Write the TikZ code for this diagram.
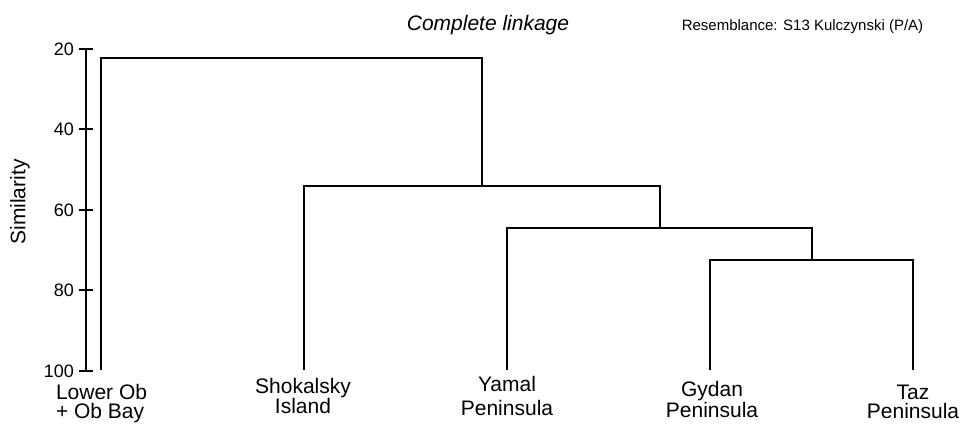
\documentclass[tikz,border=0pt]{standalone}
\usepackage{fontspec}
\setmainfont{Liberation Sans}
\begin{document}
\begin{tikzpicture}[x=1pt,y=1pt,line width=2pt,
  leaflbl/.style={font=\fontsize{21}{19}\selectfont,align=center,anchor=north,inner sep=0pt},
  ticklbl/.style={font=\fontsize{18}{18}\selectfont,anchor=east,inner sep=0pt}]
\useasboundingbox (0,0) rectangle (963,423);

\node[anchor=base,font=\fontsize{21}{21}\selectfont\itshape] (title) at (488,392) {Complete linkage};
\node[anchor=base,font=\fontsize{15}{15}\selectfont] (resem) at (802.5,392) {Resemblance: S13 Kulczynski (P/A)};
\node[rotate=90,font=\fontsize{21}{21}\selectfont] (simlbl) at (20,221) {Similarity};

\coordinate (atop) at (86,374);
\coordinate (abot) at (86,52);
\draw (atop) -- (abot);
\foreach \s/\yy in {20/374,40/294,60/213,80/133,100/52} {
  \draw (79,\yy) -- (93,\yy);
  \node[ticklbl] (t\s) at (75,\yy) {\s};
}

\coordinate (lob) at (101,53);
\coordinate (sho) at (304,53);
\coordinate (yam) at (507,53);
\coordinate (gyd) at (710,53);
\coordinate (taz) at (913,53);
\coordinate (j4) at (812,163);
\coordinate (j3) at (660,195);
\coordinate (j2) at (482,237);
\coordinate (j1) at (291,365);

\draw (gyd) |- (j4) -| (taz);
\draw (yam) |- (j3) -| (j4);
\draw (sho) |- (j2) -| (j3);
\draw (lob) |- (j1) -| (j2);

\node[leaflbl,align=left,anchor=north west] (lobl) at (55,40) {Lower Ob\\+ Ob Bay};
\node[leaflbl] (shol) at (303,46) {Shokalsky\\Island};
\node[leaflbl] (yaml) at (507,48) {Yamal\\[5pt]Peninsula};
\node[leaflbl] (gydl) at (712,43) {Gydan\\[1pt]Peninsula};
\node[leaflbl] (tazl) at (913,39) {Taz\\Peninsula};
\end{tikzpicture}
\end{document}
